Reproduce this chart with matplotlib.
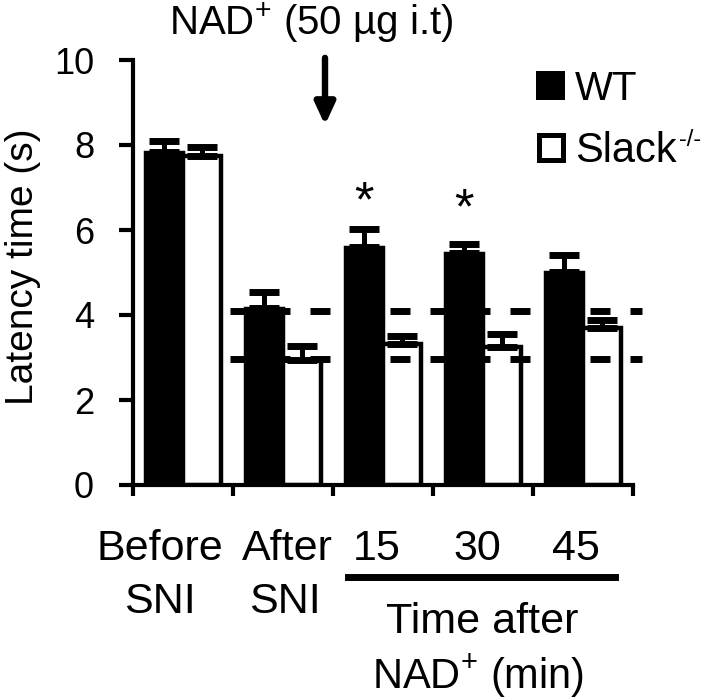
import matplotlib
matplotlib.use("Agg")
import matplotlib.pyplot as plt
import numpy as np
from matplotlib.patches import Rectangle

plt.rcParams["font.family"] = ["Liberation Sans", "DejaVu Sans"]
plt.rcParams["mathtext.fontset"] = "custom"
plt.rcParams["mathtext.rm"] = "Liberation Sans"
plt.rcParams["mathtext.default"] = "regular"
plt.rcParams["lines.scale_dashes"] = False

# data
groups = ["Before SNI", "After SNI", "15", "30", "45"]
wt = [7.84, 4.17, 5.60, 5.46, 5.01]
wt_err = [0.25, 0.37, 0.43, 0.22, 0.40]
slack = [7.75, 2.94, 3.32, 3.25, 3.69]
slack_err = [0.20, 0.33, 0.19, 0.31, 0.20]
baselines = [4.10, 2.96]
star_groups = [2, 3]
star_y = [6.62, 6.45]

W, H = 720, 699
fig = plt.figure(figsize=(W / 100, H / 100), dpi=100)
ax = fig.add_axes([133 / W, 1 - 485 / H, 500 / W, 425 / H])

x = np.arange(len(groups))
bw = 0.38
ax.bar(x - bw / 2, wt, bw, color="black", edgecolor="black", linewidth=2.5, zorder=2)
ax.bar(x + bw / 2, slack, bw, color="white", edgecolor="black", linewidth=3.2, zorder=2)
ax.errorbar(x - bw / 2, wt, yerr=[np.zeros(5), wt_err], fmt="none", ecolor="black",
            elinewidth=3.6, capsize=11, capthick=5, zorder=3)
ax.errorbar(x + bw / 2, slack, yerr=[np.zeros(5), slack_err], fmt="none", ecolor="black",
            elinewidth=3.6, capsize=11, capthick=5, zorder=3)

for yb in baselines:
    ax.hlines(yb, 0.47, 4.59, colors="black", linewidth=5, linestyles=(0, (14.4, 14.4)),
              zorder=4, clip_on=False)

for g, ys in zip(star_groups, star_y):
    ax.text(g - bw / 2, ys, "*", ha="center", va="center", fontsize=36)

ax.set_xlim(-0.5, 4.5)
ax.set_ylim(0, 10)
ax.set_yticks(np.arange(0, 11, 2))
ax.set_xticks(np.arange(-0.5, 4.6, 1))
ax.set_xticklabels([])
for s in ["top", "right"]:
    ax.spines[s].set_visible(False)
for s in ["left", "bottom"]:
    ax.spines[s].set_linewidth(3)
ax.tick_params(axis="y", length=10, width=3, labelsize=26, pad=18)
ax.tick_params(axis="x", length=8, width=3)

# arrow + treatment label
ax.annotate("", xy=(1.42, 8.47), xytext=(1.42, 10.05),
            arrowprops=dict(arrowstyle="-|>,head_length=13,head_width=6", mutation_scale=1,
                            lw=4.6, color="black", shrinkA=0, shrinkB=0),
            annotation_clip=False)
fig.text(311 / W, 1 - 35 / H, "NAD$^{+}$ (50 µg i.t)", ha="center", va="baseline", fontsize=29)

# y label
fig.text(33 / W, 1 - 267 / H, "Latency time (s)", rotation=90, rotation_mode="anchor",
         ha="center", va="baseline", fontsize=28)

# category labels under the axis
def lab(s, xc, yb, size=31):
    fig.text(xc / W, 1 - yb / H, s, ha="center", va="baseline", fontsize=size)

lab("Before", 160, 560)
lab("SNI", 160, 613)
lab("After", 287, 560)
lab("SNI", 285, 613)
lab("15", 377, 560)
lab("30", 477, 560)
lab("45", 576, 560)
fig.add_artist(plt.Line2D([348 / W, 615 / W], [1 - 577 / H, 1 - 577 / H], color="black",
                          linewidth=5, transform=fig.transFigure))
lab("Time after", 482, 633)
lab("NAD$^{+}$ (min)", 478, 688, 30)

# legend
fig.add_artist(Rectangle((536 / W, 1 - 100 / H), 29 / W, 29 / H, facecolor="black",
                         edgecolor="none", transform=fig.transFigure))
fig.add_artist(Rectangle((538.5 / W, 1 - 159.5 / H), 24 / W, 24 / H, facecolor="white",
                         edgecolor="black", linewidth=3.6, transform=fig.transFigure))
fig.text(575 / W, 1 - 100 / H, "WT", ha="left", va="baseline", fontsize=29)
fig.text(575 / W, 1 - 162 / H, "Slack", ha="left", va="baseline", fontsize=30)
fig.text(679 / W, 1 - 146 / H, "-/-", ha="left", va="baseline", fontsize=17)

fig.savefig("out.png", dpi=100)
